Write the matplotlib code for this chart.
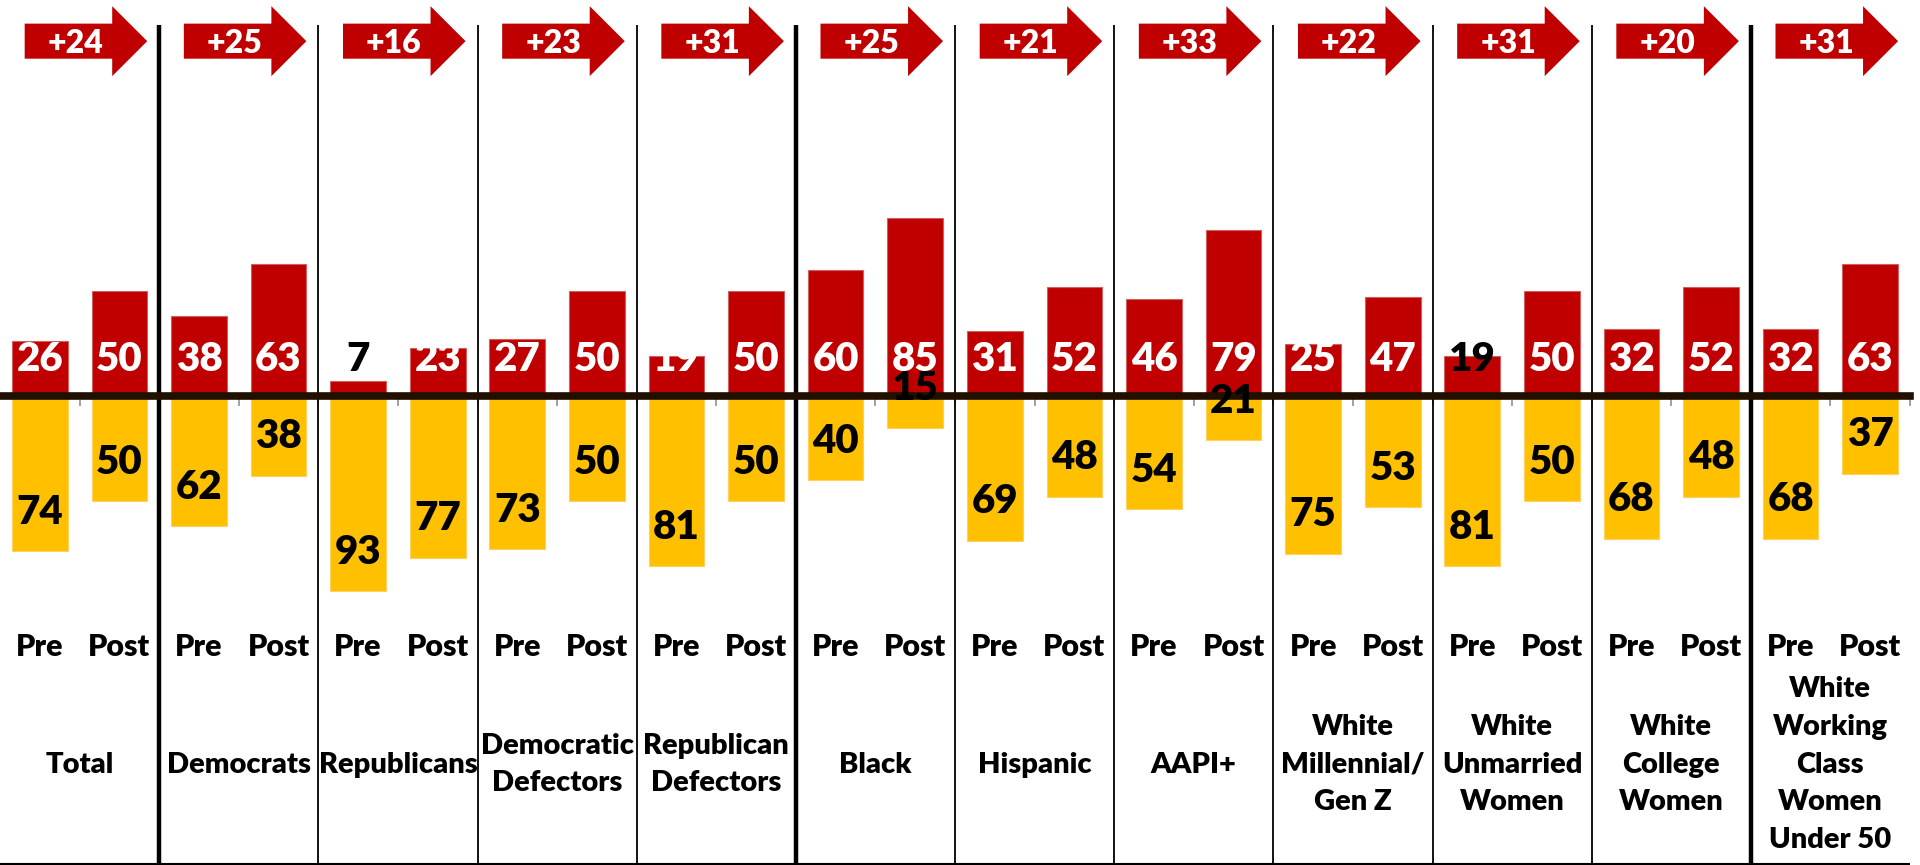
import matplotlib
matplotlib.use("Agg")
import matplotlib.pyplot as plt
import numpy as np
from matplotlib.patches import FancyArrow

plt.rcParams['font.family'] = ['Lato', 'DejaVu Sans']
plt.rcParams['font.weight'] = 'heavy'

groups = ["Total", "Democrats", "Republicans", "Democratic\nDefectors",
          "Republican\nDefectors", "Black", "Hispanic", "AAPI+",
          "White\nMillennial/\nGen Z", "White\nUnmarried\nWomen",
          "White\nCollege\nWomen", "White\nWorking\nClass\nWomen\nUnder 50"]
phases = ["Pre", "Post"]

pre_red = [26, 38, 7, 27, 19, 60, 31, 46, 25, 19, 32, 32]
post_red = [50, 63, 23, 50, 50, 85, 52, 79, 47, 50, 52, 63]
pre_yellow = [74, 62, 93, 73, 81, 40, 69, 54, 75, 81, 68, 68]
post_yellow = [50, 38, 77, 50, 50, 15, 48, 21, 53, 50, 48, 37]
shift = [24, 25, 16, 23, 31, 25, 21, 33, 22, 31, 20, 31]
# red labels drawn in black (Republicans Pre, Unmarried Pre)
black_red_labels = [(2, 0), (9, 0)]
thick_after = [0, 4, 10]

RED = "#C00000"
YEL = "#FFC000"
W = "heavy"

n = len(groups)
red = np.array([v for pair in zip(pre_red, post_red) for v in pair])
yel = np.array([v for pair in zip(pre_yellow, post_yellow) for v in pair])
x = np.arange(2 * n)

fig = plt.figure(figsize=(19.2, 8.65), dpi=100)
ax = fig.add_axes([0, 0, 1910 / 1920, 1])
ax.set_xlim(-0.5, 2 * n - 0.5)
ax.set_ylim(-223.3, 188.6)

ax.bar(x, red, width=0.7, color=RED, edgecolor="#d06060", linewidth=0.8, zorder=1)
ax.bar(x, -yel, width=0.7, color=YEL, edgecolor="#ffd060", linewidth=0.8, zorder=1)

for i in range(2 * n):
    g, p = divmod(i, 2)
    c = "black" if (g, p) in black_red_labels else "white"
    ax.text(x[i], 17.5, str(red[i]), ha="center", va="center", color=c,
            fontsize=29, fontweight=W, zorder=4)
    ax.text(x[i], -yel[i] + 18.6, str(yel[i]), ha="center", va="center",
            color="black", fontsize=29, fontweight=W, zorder=4)
    ax.text(x[i], -119.5, phases[p], ha="center", va="center", color="black",
            fontsize=22, fontweight=W)

for g in range(n):
    arr = FancyArrow(2 * g - 0.19, 169, 1.54, 0, width=16.7, head_width=33.3,
                     head_length=0.44, length_includes_head=True,
                     color=RED, linewidth=0, zorder=3)
    ax.add_patch(arr)
    ax.text(2 * g + 0.45, 168, f"+{shift[g]}", ha="center", va="center",
            color="white", fontsize=23, fontweight=W, zorder=4)
    ax.text(2 * g + 0.5, -175.5, groups[g], ha="center", va="center",
            color="black", fontsize=21, fontweight=W, linespacing=1.56)

for g in range(n - 1):
    lw = 3.2 if g in thick_after else 1.3
    ax.vlines(2 * g + 1.5, -223.3, 176.7, color="black", linewidth=lw, zorder=2)
ax.axhline(-223.0, color="black", linewidth=1.5)

# zero line with small ticks underneath
for s in ["top", "left", "right"]:
    ax.spines[s].set_visible(False)
ax.spines["bottom"].set_position(("data", 0))
ax.spines["bottom"].set_color("#211000")
ax.spines["bottom"].set_linewidth(5.5)
ax.spines["bottom"].set_zorder(3)
ax.set_xticks(np.arange(0.5, 2 * n, 1.0))
ax.tick_params(axis="x", length=7, width=1.2, color="#909090", direction="out",
               labelbottom=False)
ax.set_yticks([])

fig.savefig("out.png", dpi=100)
